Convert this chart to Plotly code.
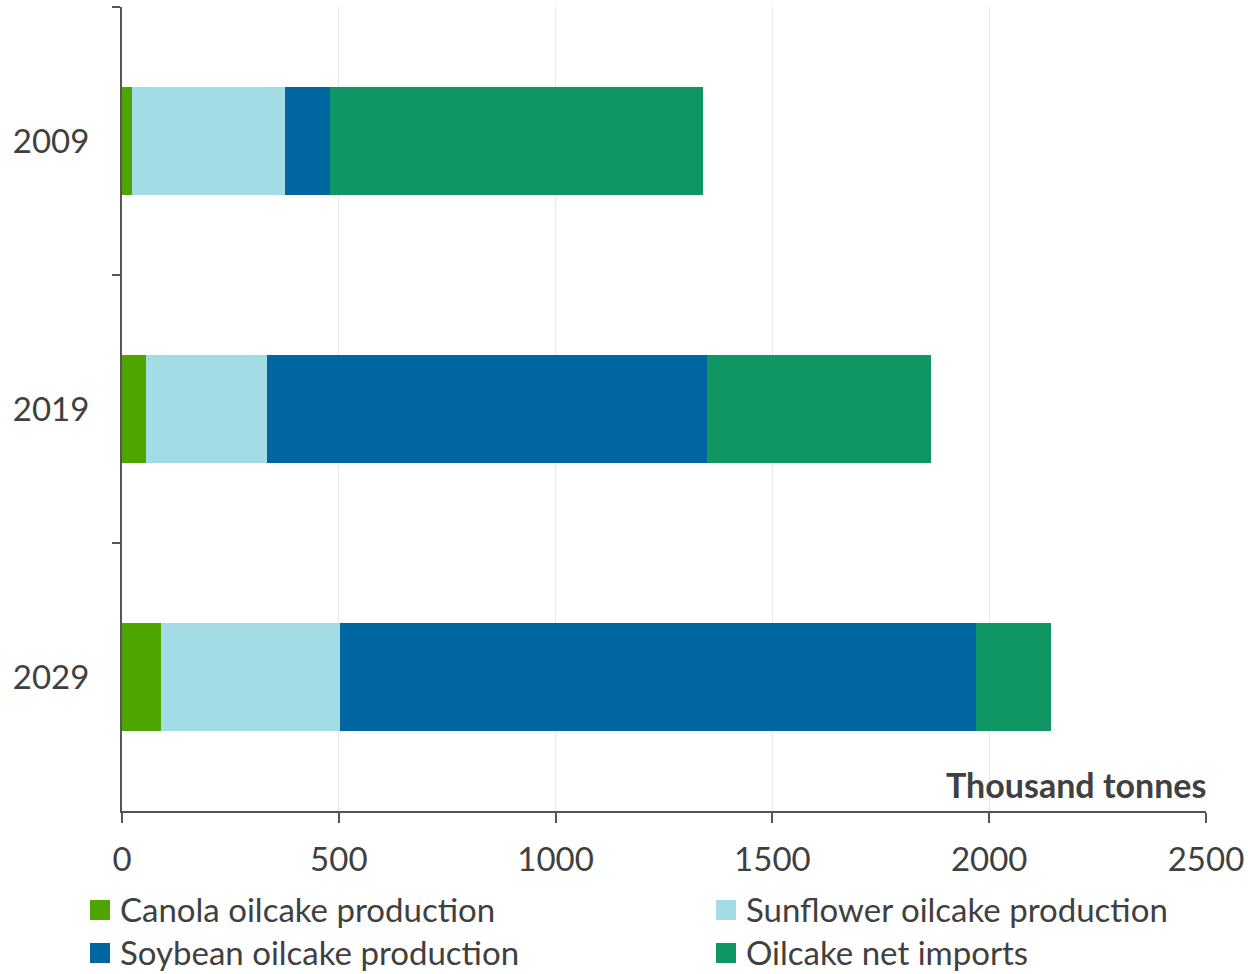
import plotly.graph_objects as go

years = ["2009", "2019", "2029"]
canola = [24, 56, 90]
sunflower = [353, 278, 412]
soybean = [102, 1015, 1468]
imports = [861, 517, 173]

series = [
    ("Canola oilcake production", canola, "#4EA500"),
    ("Sunflower oilcake production", sunflower, "#A3DCE4"),
    ("Soybean oilcake production", soybean, "#0066A1"),
    ("Oilcake net imports", imports, "#0F9664"),
]

font_family = "Lato, Carlito, 'Open Sans', sans-serif"
txt = "#404040"

W, H = 1248, 974
L, R, T, B = 122, 42, 7, 163
PW, PH = W - L - R, H - T - B

def px_x(px):
    return (px - L) / PW

def px_y(py):
    return (H - B - py) / PH

fig = go.Figure()
for name, vals, col in series:
    fig.add_trace(go.Bar(
        y=years, x=vals, name=name, orientation="h",
        marker=dict(color=col, line=dict(width=0)),
        showlegend=False,
    ))

fig.update_layout(
    width=W, height=H,
    barmode="stack",
    bargap=0.6,
    plot_bgcolor="white", paper_bgcolor="white",
    margin=dict(l=L, r=R, t=T, b=B, autoexpand=False),
    font=dict(family=font_family, size=33, color=txt),
    showlegend=False,
)
fig.update_xaxes(
    range=[0, 2500], dtick=500, showgrid=True, gridcolor="#E8E8E8", gridwidth=1,
    showline=True, linecolor="#555555", linewidth=2,
    ticks="outside", ticklen=10, tickcolor="#555555", tickwidth=2,
    tickfont=dict(size=33, color=txt), zeroline=False, automargin=False,
    ticklabelstandoff=8,
)
fig.update_yaxes(
    categoryorder="array", categoryarray=years, autorange="reversed",
    showline=True, linecolor="#555555", linewidth=2,
    ticks="outside", tickson="boundaries", ticklen=8, tickcolor="#555555", tickwidth=2,
    tickfont=dict(size=33, color=txt), showgrid=False, ticklabelstandoff=24,
    automargin=False,
)
fig.add_annotation(
    x=1, xref="paper", y=0, yref="paper", xanchor="right", yanchor="bottom",
    text="<b>Thousand tonnes</b>", showarrow=False, yshift=4, xshift=2,
    font=dict(size=34, color=txt, family=font_family),
)

# manual legend (2 columns x 2 rows)
legend_pos = [(90, 909), (716, 909), (90, 952), (716, 952)]
for (name, vals, col), (lx, ly) in zip(series, legend_pos):
    fig.add_shape(
        type="rect", xref="paper", yref="paper",
        x0=px_x(lx), x1=px_x(lx + 20), y0=px_y(ly - 9), y1=px_y(ly + 11),
        fillcolor=col, line=dict(width=0),
    )
    fig.add_annotation(
        x=px_x(lx + 28), xref="paper", y=px_y(ly), yref="paper",
        xanchor="left", yanchor="middle", text=name, showarrow=False,
        font=dict(size=33, color=txt, family=font_family),
    )

fig.write_html(
    "out.html",
    config={"displayModeBar": False},
    post_script="document.body.style.margin='0';document.body.style.overflow='hidden';",
)
